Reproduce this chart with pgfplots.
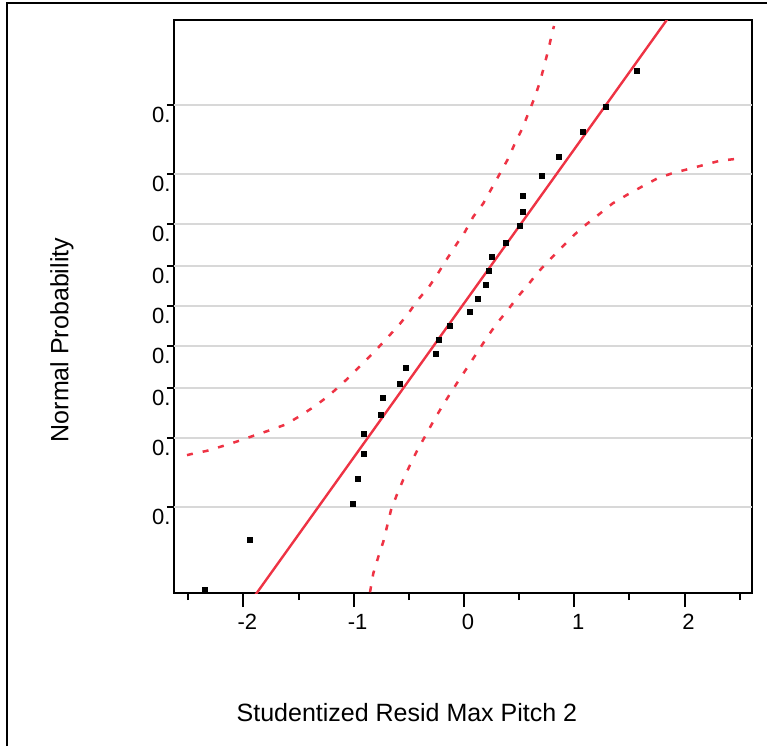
\documentclass[border=0pt]{standalone}
\usepackage{fontspec}
\setmainfont{Liberation Sans}
\usepackage{pgfplots}
\pgfplotsset{compat=1.18}
\definecolor{fitred}{HTML}{EE3344}
\definecolor{gridgray}{HTML}{D8D8D8}

\begin{document}
\begin{tikzpicture}
\useasboundingbox (0pt,0pt) rectangle (383.5pt,-373pt);
\draw[line width=1pt] (3.5pt,-373pt) -- (3.5pt,-1.5pt) -- (383.5pt,-1.5pt);
\begin{axis}[
  at={(87pt,-296.5pt)}, anchor=south west,
  scale only axis, width=289pt, height=286.5pt,
  xmin=-2.629, xmax=2.611, ymin=-1.829, ymax=1.824,
  axis line style={line width=1pt},
  tick align=outside, tick pos=left,
  tick style={black, line width=1pt},
  major tick length=7pt, minor tick length=3.5pt,
  xtick={-2,-1,0,1,2},
  minor xtick={-2.5,-1.5,-0.5,0.5,1.5,2.5},
  xticklabel style={xshift=2pt},
  ytick=\empty,
  extra y ticks={-1.2816,-0.8416,-0.5244,-0.2533,0,0.2533,0.5244,0.8416,1.2816},
  extra y tick labels={0.,0.,0.,0.,0.,0.,0.,0.,0.},
  extra y tick style={major tick length=3.5pt, grid=major,
    yticklabel style={anchor=east, inner sep=0pt, xshift=2pt, yshift=-5pt}},
  grid style={gridgray, line width=1pt},
  /pgf/number format/assume math mode=true,
  tick label style={font=\fontsize{11}{13}\selectfont},
  label style={font=\fontsize{12.5}{14}\selectfont},
  xlabel={Studentized Resid Max Pitch 2},
  ylabel={Normal Probability},
  xlabel style={at={(axis description cs:0.403,-0.209)}, anchor=center},
  ylabel style={at={(axis description cs:-0.194,0.4415)}, anchor=center},
]
% upper confidence curve
\addplot[fitred, line width=1.25pt, dash pattern=on 3pt off 5pt] coordinates {
(-2.511,-0.950) (-2.478,-0.944) (-2.333,-0.923) (-2.182,-0.891) (-2.031,-0.857)
(-1.895,-0.823) (-1.759,-0.791) (-1.614,-0.754) (-1.487,-0.700) (-1.360,-0.642)
(-1.239,-0.578) (-1.118,-0.504) (-1.018,-0.436) (-0.913,-0.362) (-0.807,-0.287)
(-0.701,-0.206) (-0.596,-0.126) (-0.505,-0.047) (-0.414,0.043) (-0.317,0.123)
(-0.233,0.212) (-0.157,0.298) (-0.073,0.389) (0.009,0.474) (0.084,0.570)
(0.175,0.655) (0.251,0.751) (0.326,0.846) (0.402,0.942) (0.462,1.038)
(0.529,1.133) (0.583,1.229) (0.638,1.325) (0.689,1.430) (0.725,1.526)
(0.764,1.633) (0.801,1.746) (0.816,1.786)
};
% lower confidence curve
\addplot[fitred, line width=1.25pt, dash pattern=on 3pt off 5pt] coordinates {
(-0.852,-1.824) (-0.822,-1.703) (-0.777,-1.599) (-0.732,-1.503) (-0.695,-1.397)
(-0.662,-1.301) (-0.610,-1.205) (-0.550,-1.105) (-0.490,-1.014) (-0.423,-0.918)
(-0.347,-0.823) (-0.272,-0.727) (-0.197,-0.638) (-0.121,-0.553) (-0.036,-0.461)
(0.048,-0.372) (0.130,-0.285) (0.211,-0.196) (0.302,-0.107) (0.396,-0.026)
(0.487,0.059) (0.583,0.138) (0.680,0.223) (0.780,0.298) (0.886,0.374)
(0.997,0.453) (1.112,0.523) (1.227,0.587) (1.348,0.655) (1.475,0.708)
(1.611,0.761) (1.747,0.812) (1.883,0.846) (2.024,0.872) (2.170,0.899)
(2.321,0.927) (2.472,0.939) (2.511,0.944)
};
% fitted line
\addplot[fitred, line width=1.2pt] coordinates {(-2,-1.948) (2,1.983)};
% residuals
\addplot[only marks, mark=square*, mark size=1.25pt, black] coordinates {
(-2.348,-1.812) (-1.940,-1.489) (-1.009,-1.258) (-0.958,-1.099) (-0.907,-0.942)
(-0.907,-0.816) (-0.755,-0.693) (-0.732,-0.587) (-0.580,-0.497) (-0.526,-0.393)
(-0.251,-0.304) (-0.227,-0.217) (-0.124,-0.128) (0.054,-0.038) (0.127,0.049)
(0.202,0.138) (0.229,0.225) (0.254,0.314) (0.378,0.404) (0.508,0.510)
(0.532,0.598) (0.532,0.705) (0.707,0.829) (0.859,0.952) (1.082,1.112)
(1.287,1.271) (1.566,1.501)
};
\end{axis}
\end{tikzpicture}
\end{document}
